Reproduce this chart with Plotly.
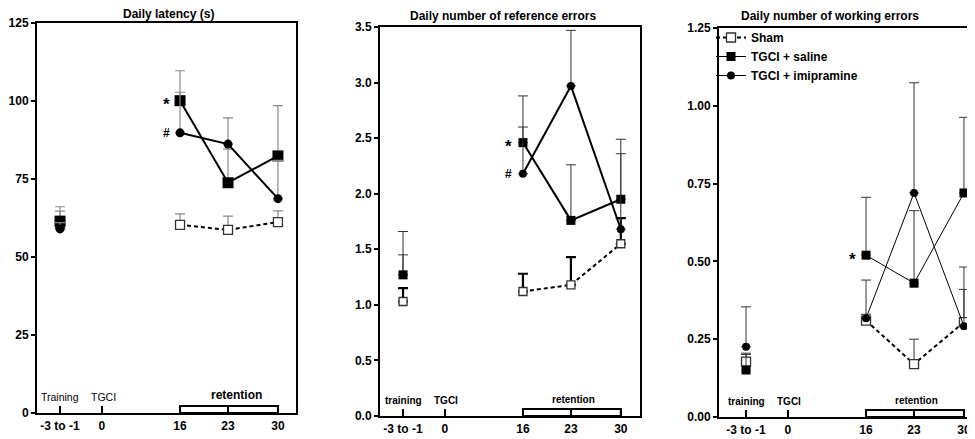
import plotly.graph_objects as go

# ---------------- data ----------------
x_labels = ["-3 to -1", "0", "16", "23", "30"]
# axis positions of the five x ticks (broken axis: training, TGCI, days 16/23/30)
x_tick_pos = [0.48, 1.35, 2.98, 3.98, 5.02]
# measured points: training, 16, 23, 30
point_idx = [0, 2, 3, 4]

# Panel 1: daily latency (s)
lat_sham = [60.5, 60.3, 58.7, 61.2]
lat_sham_sem = [4.2, 3.5, 4.4, 3.6]
lat_saline = [61.5, 100.1, 73.8, 82.4]
lat_saline_sem = [4.6, 9.6, 10.8, 16.1]
lat_imi = [59.0, 89.8, 86.2, 68.7]
lat_imi_sem = [2.0, 13.0, 8.4, 12.3]

# Panel 2: reference errors
ref_sham = [1.03, 1.12, 1.18, 1.55]
ref_sham_sem = [0.12, 0.16, 0.25, 0.23]
ref_saline = [1.27, 2.46, 1.76, 1.95]
ref_saline_sem = [0.18, 0.42, 0.50, 0.54]
ref_imi = [1.27, 2.18, 2.97, 1.68]
ref_imi_sem = [0.39, 0.42, 0.50, 0.68]

# Panel 3: working errors
wrk_sham = [0.178, 0.31, 0.17, 0.305]
wrk_sham_sem = [0.027, 0.02, 0.08, 0.105]
wrk_saline = [0.151, 0.52, 0.43, 0.72]
wrk_saline_sem = [0.05, 0.186, 0.233, 0.243]
wrk_imi = [0.226, 0.317, 0.72, 0.292]
wrk_imi_sem = [0.128, 0.123, 0.354, 0.19]

group_names = ["Sham", "TGCI + saline", "TGCI + imipramine"]
titles = ["Daily latency (s)", "Daily number of reference errors",
          "Daily number of working errors"]

FONT = "Liberation Sans, Arial, sans-serif"


def xs():
    # training point, gap (so the line is broken), then retention days
    p = [x_tick_pos[i] for i in point_idx]
    return [p[0], None, p[1], p[2], p[3]]


def ys(v):
    return [v[0], None, v[1], v[2], v[3]]


fig = go.Figure()

panels = [
    dict(sham=(lat_sham, lat_sham_sem), saline=(lat_saline, lat_saline_sem),
         imi=(lat_imi, lat_imi_sem), lw=2, err_col="#8a8a8a", err_w=1.2,
         sham_err_col="#8a8a8a", sham_err_w=1.2, sq=11, ci=9, osq=9),
    dict(sham=(ref_sham, ref_sham_sem), saline=(ref_saline, ref_saline_sem),
         imi=(ref_imi, ref_imi_sem), lw=2, err_col="#333333", err_w=1,
         sham_err_col="#000000", sham_err_w=2.2, sq=9, ci=8, osq=8),
    dict(sham=(wrk_sham, wrk_sham_sem), saline=(wrk_saline, wrk_saline_sem),
         imi=(wrk_imi, wrk_imi_sem), lw=1, err_col="#333333", err_w=1,
         sham_err_col="#333333", sham_err_w=1, sq=9, ci=8, osq=9),
]

for k, P in enumerate(panels):
    xa = "x" if k == 0 else f"x{k+1}"
    ya = "y" if k == 0 else f"y{k+1}"
    show = (k == 2)
    v, s = P["sham"]
    fig.add_trace(go.Scatter(
        x=xs(), y=ys(v), xaxis=xa, yaxis=ya, name=group_names[0],
        mode="lines+markers", connectgaps=False, showlegend=show,
        line=dict(color="black", width=2, dash="4px,3px"),
        marker=dict(symbol="square", size=P["osq"], color="white",
                    line=dict(color="#333333", width=1.3)),
        error_y=dict(type="data", symmetric=False, array=ys(s),
                     arrayminus=[0] * 5, color=P["sham_err_col"],
                     thickness=P["sham_err_w"], width=5)))
    v, s = P["saline"]
    fig.add_trace(go.Scatter(
        x=xs(), y=ys(v), xaxis=xa, yaxis=ya, name=group_names[1],
        mode="lines+markers", connectgaps=False, showlegend=show,
        line=dict(color="black", width=P["lw"]),
        marker=dict(symbol="square", size=P["sq"], color="black"),
        error_y=dict(type="data", symmetric=False, array=ys(s),
                     arrayminus=[0] * 5, color=P["err_col"],
                     thickness=P["err_w"], width=5)))
    v, s = P["imi"]
    fig.add_trace(go.Scatter(
        x=xs(), y=ys(v), xaxis=xa, yaxis=ya, name=group_names[2],
        mode="lines+markers", connectgaps=False, showlegend=show,
        line=dict(color="black", width=P["lw"]),
        marker=dict(symbol="circle", size=P["ci"], color="black"),
        error_y=dict(type="data", symmetric=False, array=ys(s),
                     arrayminus=[0] * 5, color=P["err_col"],
                     thickness=P["err_w"], width=5)))

# The page body has an 8px default margin, so the figure is placed 8px
# right/down; all layout pixel positions below are in window pixels.
OFF = 8
W, H = 975 - OFF, 439 - OFF


def px(xw):
    return (xw - OFF) / W


def py(yw):
    return 1 - (yw - OFF) / H


# plot-area boxes in window pixels (left, right, top, bottom)
boxes = [(37, 296, 23, 413), (380, 640, 27, 416), (719, 975, 28, 417)]
xranges = [[0, 5.396], [0, 5.42], [-0.083, 5.25]]
yranges = [[0, 125], [0, 3.5], [0, 1.25]]
ydticks = [25, 0.5, 0.25]
yfmts = ["d", ".1f", ".2f"]

layout = dict(width=W, height=H, template="none",
              margin=dict(l=0, r=0, t=0, b=0, pad=0),
              plot_bgcolor="white", paper_bgcolor="white",
              font=dict(family=FONT, color="black", size=12),
              showlegend=True)

for k in range(3):
    l, r, t, b = boxes[k]
    sx = "" if k == 0 else str(k + 1)
    layout["xaxis" + sx] = dict(
        domain=[px(l), min(px(r), 1.0)], range=xranges[k], anchor="y" + sx,
        tickvals=x_tick_pos, ticktext=x_labels, ticks="inside", ticklen=7,
        tickwidth=2, tickcolor="black", showline=True, linewidth=2,
        linecolor="black", mirror=True, showgrid=False, zeroline=False,
        ticklabelstandoff=1,
        tickfont=dict(family=FONT, size=12, weight="bold"), automargin=False)
    layout["yaxis" + sx] = dict(
        domain=[py(b), py(t)], range=yranges[k], anchor="x" + sx,
        dtick=ydticks[k], tick0=0, tickformat=yfmts[k], ticks="outside",
        ticklen=4, tickwidth=1.5, tickcolor="black", showline=True,
        linewidth=2, linecolor="black", mirror=(k != 2), showgrid=False,
        zeroline=False, tickfont=dict(family=FONT, size=12, weight="bold"),
        automargin=False)

layout["legend"] = dict(x=px(711), y=py(23), xanchor="left",
                        yanchor="top", bgcolor="rgba(0,0,0,0)",
                        font=dict(family=FONT, size=12, weight="bold"),
                        itemwidth=30, tracegroupgap=0)

fig.update_layout(**layout)

# titles
title_x = [168, 503, 830]
title_y = [14, 16, 16]
for k in range(3):
    fig.add_annotation(x=px(title_x[k]), y=py(title_y[k]), xref="paper",
                       yref="paper", text=titles[k], showarrow=False,
                       font=dict(family=FONT, size=12, weight="bold"),
                       xanchor="center", yanchor="middle")

# retention brackets, and phase labels
for k in range(3):
    xa = "x" if k == 0 else f"x{k+1}"
    ya = "y" if k == 0 else f"y{k+1}"
    fig.add_shape(type="rect", xref=xa, yref=ya + " domain",
                  x0=x_tick_pos[2], x1=x_tick_pos[4], ysizemode="pixel",
                  yanchor=0, y0=0, y1=7, line=dict(color="black", width=2),
                  fillcolor="rgba(0,0,0,0)")
    if k == 0:
        labs = [("Training", x_tick_pos[0], 10.5, "normal", 0),
                ("TGCI", x_tick_pos[1], 10.5, "normal", 0.03),
                ("retention", x_tick_pos[3], 12, "bold", 0.17)]
    else:
        labs = [("training", x_tick_pos[0], 10, "bold", 0),
                ("TGCI", x_tick_pos[1], 10, "bold", 0.02),
                ("retention", x_tick_pos[3], 10, "bold", 0.05)]
    for txt, xp, fs, wt, dx in labs:
        fig.add_annotation(x=xp + dx, y=0, xref=xa, yref=ya + " domain",
                           text=txt, showarrow=False, yanchor="bottom",
                           yshift=8 if txt != "retention" else 9,
                           font=dict(family=FONT, size=fs, weight=wt))

# significance markers
sig = [("x", "y", lat_saline[1], "*"), ("x", "y", lat_imi[1], "#"),
       ("x2", "y2", ref_saline[1], "*"), ("x2", "y2", ref_imi[1], "#"),
       ("x3", "y3", wrk_saline[1], "*")]
for xa, ya, yv, ch in sig:
    fig.add_annotation(x=x_tick_pos[2], y=yv, xref=xa, yref=ya, text=ch,
                       showarrow=False, xshift=-14,
                       yshift=-4 if ch == "*" else 0,
                       font=dict(family=FONT, size=17 if ch == "*" else 12,
                                 weight="bold"))

fig.write_html("out.html")
